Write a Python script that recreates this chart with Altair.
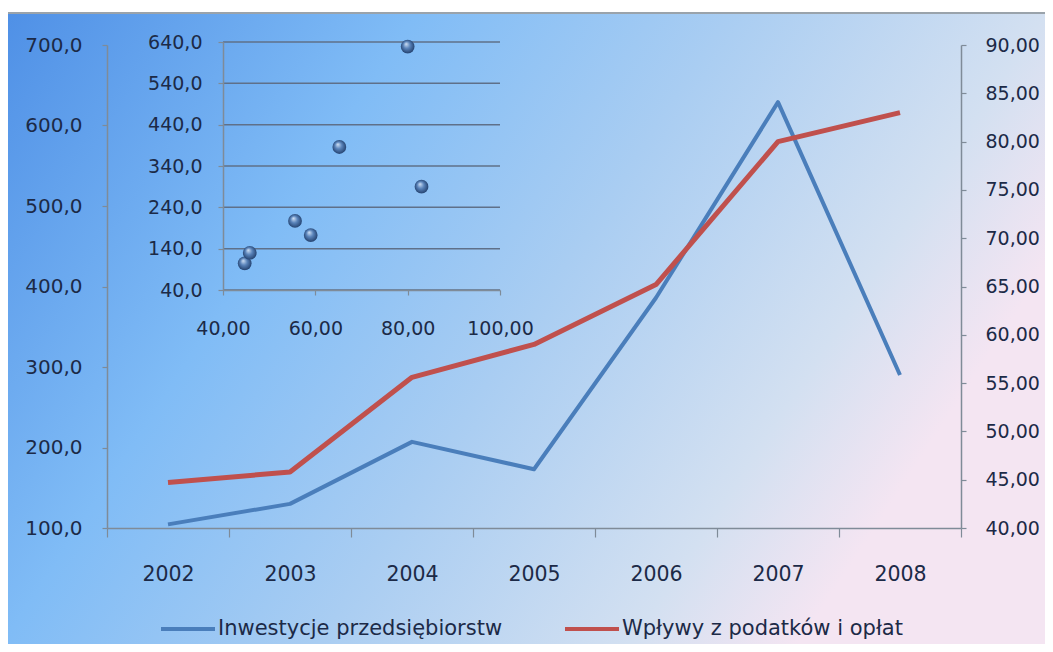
import altair as alt
import pandas as pd

# ---------------- data ----------------
years = ["2002", "2003", "2004", "2005", "2006", "2007", "2008"]
inwestycje = [104.5, 130.0, 207.0, 173.0, 386.0, 629.0, 290.0]
wplywy = [44.7, 45.8, 55.6, 59.0, 65.2, 80.0, 83.0]
series_names = ["Inwestycje przedsiębiorstw", "Wpływy z podatków i opłat"]

left_ticks = [100, 200, 300, 400, 500, 600, 700]
right_ticks = [40, 45, 50, 55, 60, 65, 70, 75, 80, 85, 90]
inset_y_ticks = [40, 140, 240, 340, 440, 540, 640]
inset_x_ticks = [40, 60, 80, 100]

BLUE = "#4a7ebb"
RED = "#c0504d"
AXIS = "#7f8b98"
GRID = "#5f7089"
LABEL = "#1c2a47"
FONT = "DejaVu Sans"

df_inv = pd.DataFrame({"year": years, "value": inwestycje, "series": series_names[0]})
df_tax = pd.DataFrame({"year": years, "value": wplywy, "series": series_names[1]})
df_sc = pd.DataFrame({"tax": wplywy, "inv": inwestycje})
df_grid = pd.DataFrame({"g": inset_y_ticks,
                        "x0": [inset_x_ticks[0]] * len(inset_y_ticks),
                        "x1": [inset_x_ticks[-1]] * len(inset_y_ticks)})

def comma(fmt):
    return f"replace(format(datum.value, '{fmt}'), '.', ',')"

# ---------------- background ----------------
bg_grad = alt.LinearGradient(
    gradient="linear",
    stops=[alt.GradientStop(color="#4f90e6", offset=0),
           alt.GradientStop(color="#80bcf6", offset=0.34),
           alt.GradientStop(color="#a9cdf2", offset=0.6),
           alt.GradientStop(color="#d3e0f1", offset=0.86),
           alt.GradientStop(color="#f4e5f2", offset=1)],
    x1=0, y1=0, x2=1, y2=0.4)

bg = alt.Chart(pd.DataFrame({"a": [0]})).mark_rect(
    fill=bg_grad, stroke="#9aa3ab", strokeWidth=2
).encode(x=alt.value(-101), x2=alt.value(940), y=alt.value(-32), y2=alt.value(602))

# ---------------- main lines ----------------
color_enc = alt.Color(
    "series:N",
    scale=alt.Scale(domain=series_names, range=[BLUE, RED]),
    legend=alt.Legend(orient="none", legendX=52, legendY=555, direction="horizontal",
                      title=None, symbolType="stroke", symbolSize=2916,
                      symbolStrokeWidth=4, labelFontSize=21, labelFont=FONT,
                      labelColor=LABEL, labelOffset=1, columnPadding=54,
                      labelLimit=600, padding=0, zindex=2),
)

common = dict(domainColor=AXIS, tickColor=AXIS, domainWidth=1.5, tickWidth=1.2,
              labelFont=FONT, labelColor=LABEL, grid=False, zindex=2,
              labelOverlap=False, labelFlush=False)

x_main = alt.X(
    "year:O",
    title=None,
    scale=alt.Scale(type="band", paddingInner=0, paddingOuter=0),
    axis=alt.Axis(orient="bottom", tickBand="extent", tickSize=9, labelPadding=27,
                  labelAngle=0, labelFontSize=20.5, **common),
)

blue = alt.Chart(df_inv).mark_line(strokeWidth=4, strokeJoin="round").encode(
    x=x_main,
    y=alt.Y("value:Q", title=None,
            scale=alt.Scale(domain=[left_ticks[0], left_ticks[-1]], nice=False, zero=False),
            axis=alt.Axis(orient="left", values=left_ticks, labelExpr=comma(".1f"),
                          tickSize=5, labelPadding=20, labelFontSize=20, **common)),
    color=color_enc,
)

red = alt.Chart(df_tax).mark_line(strokeWidth=5, strokeJoin="round").encode(
    x=x_main,
    y=alt.Y("value:Q", title=None,
            scale=alt.Scale(domain=[right_ticks[0], right_ticks[-1]], nice=False, zero=False),
            axis=alt.Axis(orient="right", values=right_ticks, labelExpr=comma(".2f"),
                          tickSize=5, labelPadding=19, labelFontSize=19, **common)),
    color=color_enc,
)

lines = alt.layer(blue, red).resolve_scale(y="independent")

# ---------------- inset scatter ----------------
sx = alt.Scale(domain=[inset_x_ticks[0], inset_x_ticks[-1]], range=[116, 393], nice=False, zero=False)
sy = alt.Scale(domain=[inset_y_ticks[0], inset_y_ticks[-1]], range=[245, -3], nice=False, zero=False)

x_in_axis = alt.Axis(orient="bottom", offset=-238, values=inset_x_ticks, labelExpr=comma(".2f"),
                     tickSize=5, labelPadding=24, labelFontSize=19, **common)
y_in_axis = alt.Axis(orient="left", offset=-116, values=inset_y_ticks, labelExpr=comma(".1f"),
                     tickSize=5, labelPadding=16, labelFontSize=19, **common)

grid = alt.Chart(df_grid).mark_rule(color=GRID, strokeWidth=1.5).encode(
    x=alt.X("x0:Q", title=None, scale=sx, axis=x_in_axis),
    x2="x1:Q",
    y=alt.Y("g:Q", title=None, scale=sy, axis=y_in_axis),
)

ball = alt.RadialGradient(
    gradient="radial",
    stops=[alt.GradientStop(color="#d4e4f7", offset=0),
           alt.GradientStop(color="#5a84bb", offset=0.45),
           alt.GradientStop(color="#1d3a66", offset=1)],
    x1=0.38, y1=0.3, r1=0, x2=0.5, y2=0.5, r2=0.55)

pts = alt.Chart(df_sc).mark_circle(size=190, fill=ball, opacity=1).encode(
    x=alt.X("tax:Q", title=None, scale=sx, axis=x_in_axis),
    y=alt.Y("inv:Q", title=None, scale=sy, axis=y_in_axis),
)

inset = alt.layer(grid, pts)

chart = alt.layer(bg, lines, inset).resolve_scale(
    x="independent", y="independent"
).properties(
    width=854, height=483,
    padding={"left": 99, "top": 37, "right": 84, "bottom": 116},
    autosize=alt.AutoSizeParams(type="none"),
    background="white",
).configure_view(strokeWidth=0)

chart.save("out.html", embed_options={"renderer": "svg", "actions": False})
